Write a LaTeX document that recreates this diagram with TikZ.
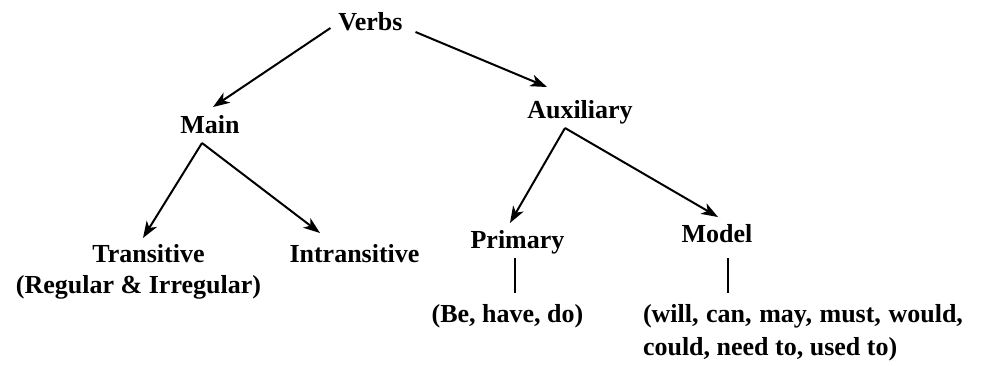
\documentclass[tikz,border=0pt]{standalone}
\usepackage{fontspec}
\setmainfont{Liberation Serif}
\usetikzlibrary{arrows.meta}

\tikzset{every picture/.style={line width=1.5pt}}
\tikzset{
  lbl/.style={anchor=base,inner sep=0pt,font=\fontsize{19.5}{24.75}\selectfont\bfseries},
  arr/.style={-{Stealth[length=12.5pt,width=9pt,inset=3.5pt]}},
}

\begin{document}
\begin{tikzpicture}[x=0.75pt,y=0.75pt,yscale=-1,xscale=1]
        \useasboundingbox (0,0) rectangle (994,365);

        % Text Node
        \node [lbl] (verbs) at (370.5,30) {Verbs};
        % Text Node
        \node [lbl] (main) at (210,133) {Main};
        % Text Node
        \node [lbl] (aux) at (580,118) {Auxiliary};
        % Text Node
        \node [lbl] (trans) at (148.5,262) {Transitive};
        % Text Node
        \node [lbl] (transsub) at (138.5,293) {(Regular \& Irregular)};
        % Text Node
        \node [lbl] (intrans) at (354.5,262) {Intransitive};
        % Text Node
        \node [lbl] (primary) at (517.5,248) {Primary};
        % Text Node
        \node [lbl] (model) at (717,242) {Model};
        % Text Node
        \node [lbl] (primex) at (507.5,322) {(Be, have, do)};
        % Text Node
        \node [lbl,anchor=base west] (modex) at (642,322) {\makebox[240pt][s]{(will, can, may, must, would,}};
        % Text Node
        \node [lbl,anchor=base west] (modexb) at (642,355) {could, need to, used to)};

        \coordinate (mainfoot) at ([shift={(-8,10)}]main.base);
        \coordinate (auxfoot) at ([shift={(-15,10)}]aux.base);

        %Straight Lines
        \draw [arr] ([shift={(-7,-2)}]verbs.base west) -- ([shift={(3,-26)}]main.base);
        \draw [arr] ([shift={(12,2)}]verbs.base east) -- ([shift={(-33,-31)}]aux.base);
        %Straight Lines
        \draw [arr] (mainfoot) -- ([shift={(-5.5,-24)}]trans.base);
        \draw [arr] (mainfoot) -- ([shift={(-34.5,-29)}]intrans.base);
        %Straight Lines
        \draw [arr] (auxfoot) -- ([shift={(-7.5,-25)}]primary.base);
        \draw [arr] (auxfoot) -- ([shift={(1,-25)}]model.base);
        %Straight Lines
        \draw ([shift={(-2.5,10)}]primary.base) -- ([shift={(7.5,-29)}]primex.base);
        \draw ([shift={(11,16)}]model.base) -- ([shift={(86,-29)}]modex.base west);
\end{tikzpicture}
\end{document}
